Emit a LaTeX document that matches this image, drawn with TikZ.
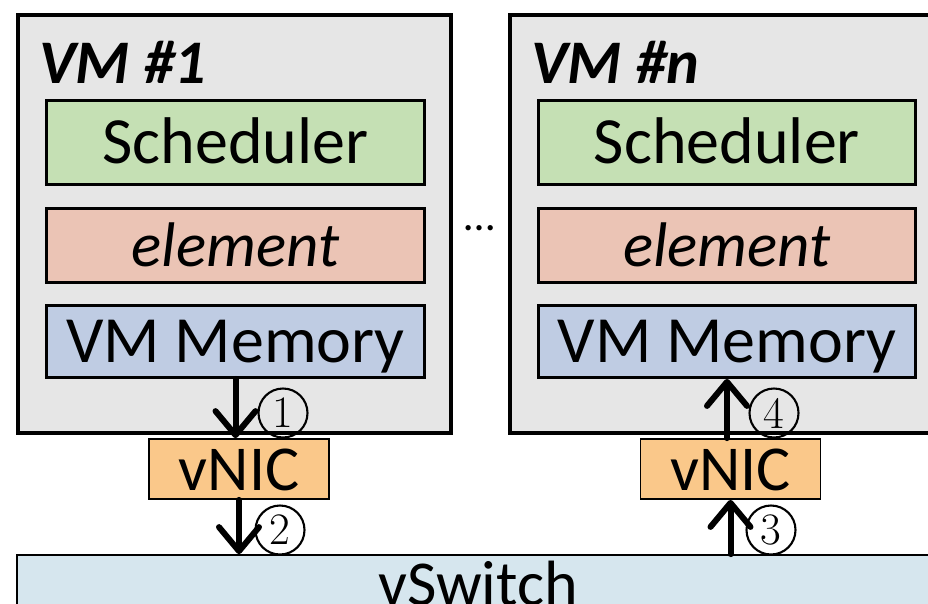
\documentclass[tikz,border=0pt]{standalone}
\usepackage{fontspec}
\newfontfamily\carlito{Carlito}
\usetikzlibrary{arrows.meta}
\definecolor{vmgray}{HTML}{E6E6E6}
\definecolor{schedgreen}{HTML}{C5E0B4}
\definecolor{elemred}{HTML}{EBC4B5}
\definecolor{memblue}{HTML}{BFCCE3}
\definecolor{nicorange}{HTML}{FAC88A}
\definecolor{switchblue}{HTML}{D6E6EE}
\begin{document}
\begin{tikzpicture}[x=1pt,y=-1pt,
  vmbox/.style={draw,line width=3.5pt,fill=vmgray,inner sep=0pt},
  inbox/.style={draw,line width=2.8pt,inner sep=0pt,text height=42pt,text depth=0pt,
    font=\carlito\fontsize{66}{66}\selectfont},
  nicbox/.style={draw,line width=1.8pt,fill=nicorange,inner sep=0pt,minimum width=180pt,minimum height=60pt,
    text height=42pt,text depth=0pt,font=\carlito\fontsize{64}{64}\selectfont},
  title/.style={anchor=base west,inner sep=0pt,font=\carlito\bfseries\itshape\fontsize{62}{62}\selectfont},
  arr/.style={line width=6pt,line cap=round,line join=round,-{Straight Barb[length=24pt,width=40pt,line width=6pt,line cap=round,line join=round]}},
  num/.style={circle,draw,line width=2.1pt,minimum size=49pt,inner sep=0pt,font=\fontsize{45}{45}\selectfont}
]
\useasboundingbox (0,0) rectangle (928,603);
\clip (0,0) rectangle (928,603);
% VM boxes
\node[vmbox,minimum width=433pt,minimum height=418pt] (vm1) at (234.5,224) {};
\node[vmbox,minimum width=440pt,minimum height=418pt] (vmn) at (730,224) {};
\node[title] (t1) at (39,83) {VM \#1};
\node[title] (tn) at (531,83) {VM \#n};
% inner boxes VM1
\node[inbox,fill=schedgreen,minimum width=378pt,minimum height=84pt] (s1) at (235.5,142.5) {Scheduler};
\node[inbox,fill=elemred,minimum width=378pt,minimum height=74pt,font=\carlito\itshape\fontsize{63}{63}\selectfont] (e1) at (235.5,245.5) {element};
\node[inbox,fill=memblue,minimum width=378pt,minimum height=72pt] (m1) at (235.5,341.5) {VM Memory};
% inner boxes VMn
\node[inbox,fill=schedgreen,minimum width=377pt,minimum height=84pt] (sn) at (727,142.5) {Scheduler};
\node[inbox,fill=elemred,minimum width=377pt,minimum height=74pt,font=\carlito\itshape\fontsize{63}{63}\selectfont] (en) at (727,245.5) {element};
\node[inbox,fill=memblue,minimum width=377pt,minimum height=72pt] (mn) at (727,341.5) {VM Memory};
% dots
\node[inner sep=0pt,font=\carlito\fontsize{44}{44}\selectfont] (dots) at (480,228) {\dots};
% vNICs
\node[nicbox] (nic1) at (239,469) {vNIC};
\node[nicbox] (nicn) at (730.5,469) {vNIC};
% vSwitch
\node[draw,line width=1.8pt,fill=switchblue,inner sep=0pt,minimum width=922pt,minimum height=58pt,
  text height=42pt,text depth=0pt,font=\carlito\fontsize{64}{64}\selectfont] (vsw) at (478,584) {vSwitch};
% arrows
\draw[arr] (m1.south) -- (m1.south |- nic1.north);
\draw[arr] (nic1.south) -- (nic1.south |- vsw.north);
\draw[arr] (nicn.south |- vsw.north) -- (nicn.south);
\draw[arr] (nicn.north -| mn.south) -- (mn.south);
% step numbers
\node[num] (c1) at (283,413) {1};
\node[num] (c2) at (280,530) {2};
\node[num] (c3) at (771,530) {3};
\node[num] (c4) at (774,413) {4};
\end{tikzpicture}
\end{document}
